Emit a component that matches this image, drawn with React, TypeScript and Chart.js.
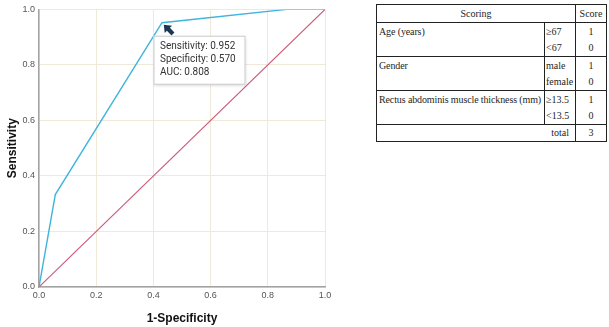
import React, { useEffect, useRef } from "react";
import { Chart, registerables } from "chart.js";

Chart.register(...registerables);

// ROC curve data
const rocFpr = [0, 0.057, 0.43, 0.866, 1];
const rocTpr = [0, 0.333, 0.952, 1, 1];
const refFpr = [0, 1];
const refTpr = [0, 1];
const tickValues = [0, 0.2, 0.4, 0.6, 0.8, 1.0];
const cutoffFpr = 0.43;
const cutoffTpr = 0.952;
const annotationLines = ["Sensitivity: 0.952", "Specificity: 0.570", "AUC: 0.808"];
const xTitle = "1-Specificity";
const yTitle = "Sensitivity";

// Scoring table data
const tableHeader = ["Scoring", "Score"];
const factors = ["Age (years)", "Gender", "Rectus abdominis muscle thickness (mm)"];
const levels = [["≥67", "<67"], ["male", "female"], ["≥13.5", "<13.5"]];
const scores = [[1, 0], [1, 0], [1, 0]];
const totalLabel = "total";
const totalScore = 3;

const annotationPlugin = {
  id: "cutoffAnnotation",
  afterDatasetsDraw(chart: any) {
    const { ctx, scales } = chart;
    const px = scales.x.getPixelForValue(cutoffFpr);
    const py = scales.y.getPixelForValue(cutoffTpr);
    ctx.save();
    // arrow pointing at the cutoff point
    ctx.fillStyle = "#1a3854";
    ctx.translate(px + 1.8, py + 2);
    ctx.rotate(-Math.PI / 4);
    ctx.beginPath();
    ctx.moveTo(0, 0);
    ctx.lineTo(5.2, 6.5);
    ctx.lineTo(2.1, 6.5);
    ctx.lineTo(2.1, 13);
    ctx.lineTo(-2.1, 13);
    ctx.lineTo(-2.1, 6.5);
    ctx.lineTo(-5.2, 6.5);
    ctx.closePath();
    ctx.fill();
    ctx.restore();

    ctx.save();
    const bx = px - 8.5;
    const by = py + 13;
    const bw = 92;
    const bh = 49;
    ctx.shadowColor = "rgba(0,0,0,0.18)";
    ctx.shadowBlur = 3;
    ctx.shadowOffsetX = 1;
    ctx.shadowOffsetY = 1;
    ctx.fillStyle = "#ffffff";
    ctx.fillRect(bx, by, bw, bh);
    ctx.shadowColor = "transparent";
    ctx.strokeStyle = "#c9c9c9";
    ctx.lineWidth = 1;
    ctx.strokeRect(bx + 0.5, by + 0.5, bw - 1, bh - 1);
    ctx.fillStyle = "#333333";
    ctx.font = "10px Roboto, 'Liberation Sans', sans-serif";
    ctx.textBaseline = "middle";
    annotationLines.forEach((t, i) => {
      ctx.fillText(t, bx + 6.5, by + 10.5 + i * 13.2);
    });
    ctx.restore();
  },
};

function ScoringTable() {
  const font = "10px 'Liberation Serif', 'Times New Roman', serif";
  const line = "#222";
  const cells: React.ReactNode[] = [];
  const W = 229;
  const c1 = 167;
  const c2 = 198;
  const headerH = 17;
  const groupH = 34;
  const abs = (x: number, y: number, w: number, h: number, extra: any = {}) => ({
    position: "absolute" as const,
    left: x,
    top: y,
    width: w,
    height: h,
    lineHeight: h + "px",
    whiteSpace: "nowrap" as const,
    ...extra,
  });
  cells.push(
    <div key="h1" style={abs(0, 0, c2, headerH, { textAlign: "center" })}>{tableHeader[0]}</div>,
    <div key="h2" style={abs(c2 + 1, 0, W - c2 - 1, headerH, { textAlign: "center" })}>{tableHeader[1]}</div>
  );
  const hLines = [headerH, headerH + groupH, headerH + 2 * groupH, headerH + 3 * groupH];
  hLines.forEach((y, i) => {
    cells.push(<div key={"hl" + i} style={{ position: "absolute", left: 0, top: y, width: W, height: 1, background: line }} />);
  });
  cells.push(
    <div key="v1" style={{ position: "absolute", left: c1, top: headerH, width: 1, height: 3 * groupH, background: line }} />,
    <div key="v2" style={{ position: "absolute", left: c2, top: 0, width: 1, height: 136, background: line }} />
  );
  factors.forEach((f, gi) => {
    const gy = headerH + gi * groupH + 1;
    const sub = (groupH - 1) / 2;
    cells.push(
      <div key={"f" + gi} style={abs(2, gy + 0.5, c1 - 3, sub, { letterSpacing: "-0.12px" })}>{f}</div>
    );
    levels[gi].forEach((lv, li) => {
      cells.push(
        <div key={"l" + gi + li} style={abs(c1 + 2, gy + li * sub + 0.5, c2 - c1 - 2, sub)}>{lv}</div>,
        <div key={"s" + gi + li} style={abs(c2 + 1, gy + li * sub + 0.5, W - c2 - 1, sub, { textAlign: "center" })}>{scores[gi][li]}</div>
      );
    });
  });
  const ty = headerH + 3 * groupH + 1;
  cells.push(
    <div key="t1" style={abs(0, ty, c2 - 6, 136 - ty, { textAlign: "right" })}>{totalLabel}</div>,
    <div key="t2" style={abs(c2 + 1, ty, W - c2 - 1, 136 - ty, { textAlign: "center" })}>{totalScore}</div>
  );
  return (
    <div
      style={{
        position: "absolute",
        left: 376,
        top: 4,
        width: W,
        height: 136,
        border: "1px solid #222",
        borderRightWidth: 1.5,
        borderBottomWidth: 1.5,
        font,
        color: "#1e1e1e",
        background: "#fff",
      }}
    >
      {cells}
    </div>
  );
}

export default function App() {
  const canvasRef = useRef<HTMLCanvasElement | null>(null);

  useEffect(() => {
    const canvas = canvasRef.current;
    if (!canvas) return;
    const tickFont = { family: "'Liberation Sans', Arial, sans-serif", size: 9 };
    const titleFont = { family: "'Liberation Sans', Arial, sans-serif", size: 12, weight: "bold" as const };
    const chart = new Chart(canvas, {
      type: "scatter",
      data: {
        datasets: [
          {
            data: rocFpr.map((x, i) => ({ x, y: rocTpr[i] })),
            showLine: true,
            borderColor: "#3fb4dc",
            borderWidth: 1.4,
            pointRadius: 0,
            tension: 0,
          },
          {
            data: refFpr.map((x, i) => ({ x, y: refTpr[i] })),
            showLine: true,
            borderColor: "#cc5a78",
            borderWidth: 1.1,
            pointRadius: 0,
            tension: 0,
          },
        ],
      },
      options: {
        responsive: false,
        animation: false,
        events: [],
        layout: { padding: { left: 0, top: 5, right: 15, bottom: 0 } },
        plugins: { legend: { display: false }, tooltip: { enabled: false } },
        scales: {
          x: {
            type: "linear",
            min: 0,
            max: 1,
            afterBuildTicks: (s: any) => {
              s.ticks = tickValues.map((v) => ({ value: v }));
            },
            ticks: {
              callback: (v: any) => Number(v).toFixed(1),
              font: tickFont,
              color: "#555",
              padding: 3,
              maxRotation: 0,
            },
            grid: { color: "#eee9d9", drawTicks: false, lineWidth: 1 },
            border: { color: "#a3a3a3", width: 1.5 },
            title: { display: true, text: xTitle, font: titleFont, color: "#111", padding: { top: 0, bottom: 1 } },
            afterFit: (s: any) => {
              s.height = 40;
            },
          },
          y: {
            type: "linear",
            min: 0,
            max: 1,
            afterBuildTicks: (s: any) => {
              s.ticks = tickValues.map((v) => ({ value: v }));
            },
            ticks: {
              callback: (v: any) => Number(v).toFixed(1),
              font: tickFont,
              color: "#555",
              padding: 4,
            },
            grid: { color: "#eee9d9", drawTicks: false, lineWidth: 1 },
            border: { color: "#a3a3a3", width: 1.5 },
            title: { display: true, text: yTitle, font: titleFont, color: "#111", padding: { top: 5, bottom: 0 } },
            afterFit: (s: any) => {
              s.width = 39;
            },
          },
        },
      },
      plugins: [annotationPlugin],
    });
    return () => chart.destroy();
  }, []);

  return (
    <div style={{ position: "fixed", left: 0, top: 0, width: 609, height: 327, background: "#fff", overflow: "hidden" }}>
      <canvas ref={canvasRef} width={340} height={327} style={{ position: "absolute", left: 0, top: 0 }} />
      <ScoringTable />
    </div>
  );
}
